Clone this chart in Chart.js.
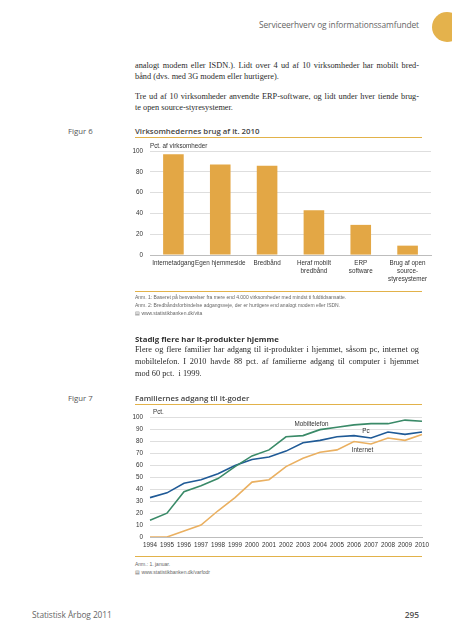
<!DOCTYPE html>
<html><head><meta charset="utf-8">
<script src="https://cdn.jsdelivr.net/npm/chart.js@4/dist/chart.umd.min.js"></script>
<style>
html,body{margin:0;padding:0;background:#fff;}
#page{position:relative;width:452px;height:640px;overflow:hidden;font-family:"Open Sans","Noto Sans",sans-serif;color:#333;}
.abs{position:absolute;white-space:nowrap;}
.serif{font-family:"Liberation Serif","DejaVu Serif",serif;font-size:8.3px;color:#2a2a2a;}
.jl{position:absolute;left:135px;width:284px;text-align:justify;text-align-last:justify;white-space:normal;}
.ll{position:absolute;left:135px;white-space:nowrap;}
.rule{position:absolute;left:135px;width:287px;height:1px;background:#e2b24a;}
.fig{font-size:7.8px;color:#444;font-weight:600;}
.fign{font-size:7.8px;color:#555;}
.note{font-size:5px;color:#666;font-family:"Liberation Sans",sans-serif;}
canvas{position:absolute;}
</style></head><body>
<div id="page">
  <div class="abs" style="right:33px;top:19px;font-size:8.4px;letter-spacing:-0.1px;color:#666;">Serviceerhverv og informationssamfundet</div>
  <div class="abs" style="left:432px;top:12px;width:30px;height:30px;border-radius:50%;background:#e4b24c;"></div>

  <div class="serif jl" style="top:61px;">analogt modem eller ISDN.). Lidt over 4 ud af 10 virksomheder har mobilt bred-</div>
  <div class="serif ll" style="top:72px;">bånd (dvs. med 3G modem eller hurtigere).</div>
  <div class="serif jl" style="top:92px;">Tre ud af 10 virksomheder anvendte ERP-software, og lidt under hver tiende brug-</div>
  <div class="serif ll" style="top:103px;">te open source-styresystemer.</div>

  <div class="abs fign" style="left:68px;top:126px;">Figur 6</div>
  <div class="abs fig" style="left:135px;top:126px;">Virksomhedernes brug af it. 2010</div>
  <div class="rule" style="top:137px;"></div>
  <canvas id="c1" width="330" height="152" style="left:110px;top:140px;width:330px;height:152px;"></canvas>
  <div class="rule" style="top:291px;"></div>
  <div class="abs note" style="left:135px;top:294px;">Anm. 1: Baseret på besvarelser fra mere end 4.000 virksomheder med mindst ti fuldtidsansatte.</div>
  <div class="abs note" style="left:135px;top:302px;">Anm. 2: Bredbåndsforbindelse adgangsveje, der er hurtigere end analogt modem eller ISDN.</div>
  <div class="abs note" style="left:135px;top:310px;">&#9636; www.statistikbanken.dk/vita</div>

  <div class="abs" style="left:135px;top:334px;font-size:7.8px;font-weight:bold;color:#333;">Stadig flere har it-produkter hjemme</div>
  <div class="serif jl" style="top:345px;">Flere og flere familier har adgang til it-produkter i hjemmet, såsom pc, internet og</div>
  <div class="serif jl" style="top:357px;">mobiltelefon. I 2010 havde 88 pct. af familierne adgang til computer i hjemmet</div>
  <div class="serif ll" style="top:369px;">mod 60 pct.&nbsp; i 1999.</div>

  <div class="abs fign" style="left:68px;top:393px;">Figur 7</div>
  <div class="abs fig" style="left:135px;top:393px;">Familiernes adgang til it-goder</div>
  <div class="rule" style="top:404px;"></div>
  <canvas id="c2" width="330" height="148" style="left:110px;top:405px;width:330px;height:148px;"></canvas>
  <div class="rule" style="top:556px;"></div>
  <div class="abs note" style="left:135px;top:561px;">Anm.: 1. januar.</div>
  <div class="abs note" style="left:135px;top:569px;">&#9636; www.statistikbanken.dk/varfodr</div>

  <div class="abs" style="left:32px;top:609px;font-size:8.4px;letter-spacing:-0.1px;color:#666;">Statistisk Årbog 2011</div>
  <div class="abs" style="right:33px;top:609px;font-size:8.4px;color:#555;font-weight:600;">295</div>
</div>
<script>
// ---- Figur 6 data ----
const barCategories = [
  ['Internetadgang'],
  ['Egen hjemmeside'],
  ['Bredbånd'],
  ['Heraf mobilt', 'bredbånd'],
  ['ERP', 'software'],
  ['Brug af open', 'source-', 'styresystemer']
];
const barValues = [97, 87, 86, 43, 29, 9];
const barTicks = [0, 20, 40, 60, 80, 100];

// ---- Figur 7 data ----
const years = ['1994','1995','1996','1997','1998','1999','2000','2001','2002','2003','2004','2005','2006','2007','2008','2009','2010'];
const pcValues       = [33, 37, 45, 48, 53, 60, 65, 67, 72, 79, 81, 84, 85, 83, 88, 86, 88];
const mobilValues    = [14, 20, 38, 43, 49, 59, 68, 73, 84, 85, 90, 92, 94, 95, 95, 98, 97];
const internetValues = [ 0,  0,  5, 10, 22, 33, 46, 48, 59, 66, 71, 73, 80, 78, 83, 81, 86];
const lineTicks = [0, 10, 20, 30, 40, 50, 60, 70, 80, 90, 100];

const FONT = '"Liberation Sans",sans-serif';
const tickFont = {family: FONT, size: 6.3, lineHeight: 1.3};
const gridColor = '#d6d6d6';

const axisTitlePlugin = {
  id: 'axisTitle',
  afterDraw(chart, args, opts) {
    const ctx = chart.ctx, a = chart.chartArea;
    ctx.save();
    ctx.font = '6.3px ' + FONT;
    ctx.fillStyle = '#333';
    ctx.textBaseline = 'bottom';
    ctx.fillText(opts.text, a.left + (opts.dx || 0), a.top - 2);
    ctx.restore();
  }
};

const seriesLabelPlugin = {
  id: 'seriesLabels',
  afterDatasetsDraw(chart, args, opts) {
    const ctx = chart.ctx, xs = chart.scales.x, ys = chart.scales.y;
    ctx.save();
    ctx.font = '6.3px ' + FONT;
    ctx.fillStyle = '#333';
    ctx.textAlign = 'center';
    ctx.textBaseline = 'middle';
    (opts.items || []).forEach(it => {
      ctx.fillText(it.text, xs.getPixelForValue(it.at), ys.getPixelForValue(it.value));
    });
    ctx.restore();
  }
};

new Chart(document.getElementById('c1'), {
  type: 'bar',
  data: {labels: barCategories, datasets: [{data: barValues, backgroundColor: '#e3a745', barPercentage: 0.88, categoryPercentage: 0.5}]},
  options: {
    responsive: false, animation: false, devicePixelRatio: 1,
    layout: {padding: {top: 11, right: 9, left: 0, bottom: 0}},
    plugins: {legend: {display: false}, tooltip: {enabled: false}, axisTitle: {text: 'Pct. af virksomheder', dx: 0}},
    scales: {
      y: {min: 0, max: 100, afterBuildTicks(s){ s.ticks = barTicks.map(v => ({value: v})); },
          afterFit(s){ s.width = 40; },
          grid: {color: gridColor, drawTicks: false, lineWidth: 0.8}, border: {display: false},
          ticks: {font: tickFont, color: '#333', padding: 7}},
      x: {grid: {display: false, drawTicks: false}, border: {color: '#bdbdbd'},
          afterFit(s){ s.height = 37; },
          ticks: {font: tickFont, color: '#333', maxRotation: 0, autoSkip: false, padding: 4}}
    }
  },
  plugins: [axisTitlePlugin]
});

new Chart(document.getElementById('c2'), {
  type: 'line',
  data: {labels: years, datasets: [
    {label: 'Mobiltelefon', data: mobilValues, borderColor: '#3a8a68', borderWidth: 1.6, pointRadius: 0, tension: 0},
    {label: 'Pc', data: pcValues, borderColor: '#1f5a96', borderWidth: 1.6, pointRadius: 0, tension: 0},
    {label: 'Internet', data: internetValues, borderColor: '#eab061', borderWidth: 1.6, pointRadius: 0, tension: 0}
  ]},
  options: {
    responsive: false, animation: false, devicePixelRatio: 1,
    layout: {padding: {top: 12.7, right: 18, left: 0, bottom: 0}},
    plugins: {legend: {display: false}, tooltip: {enabled: false},
      axisTitle: {text: 'Pct.', dx: 3},
      seriesLabels: {items: [
        {text: 'Mobiltelefon', at: 9.5, value: 94.5},
        {text: 'Pc', at: 12.7, value: 88.8},
        {text: 'Internet', at: 12.5, value: 72.8}
      ]}},
    scales: {
      y: {min: 0, max: 100, afterBuildTicks(s){ s.ticks = lineTicks.map(v => ({value: v})); },
          afterFit(s){ s.width = 40; },
          grid: {color: gridColor, drawTicks: false, lineWidth: 0.8}, border: {display: false},
          ticks: {font: tickFont, color: '#333', padding: 7}},
      x: {offset: false, grid: {display: false, drawTicks: false}, border: {color: '#bdbdbd'},
          afterFit(s){ s.height = 16; },
          ticks: {font: tickFont, color: '#333', maxRotation: 0, autoSkip: false, padding: 4}}
    }
  },
  plugins: [axisTitlePlugin, seriesLabelPlugin]
});
</script>
</body></html>
